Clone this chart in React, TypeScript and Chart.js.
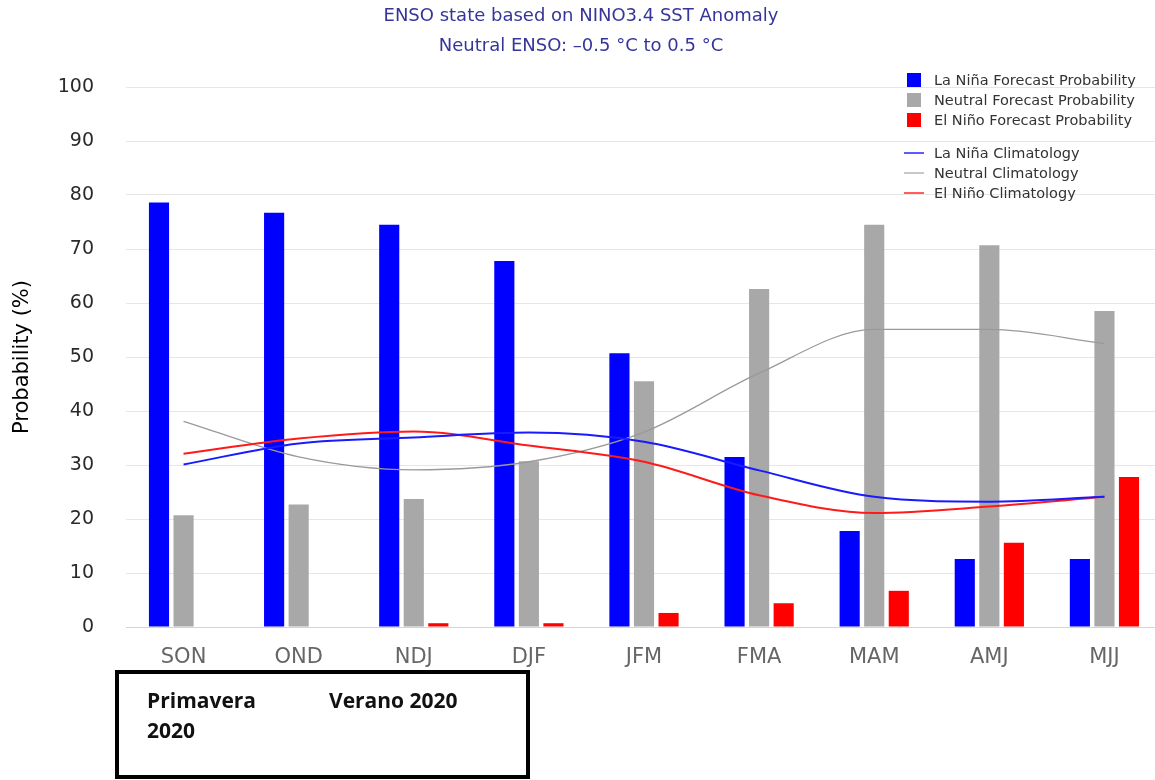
import React, { useEffect, useRef } from "react";
import { Chart, registerables } from "chart.js";

Chart.register(...registerables);

const categories = ["SON", "OND", "NDJ", "DJF", "JFM", "FMA", "MAM", "AMJ", "MJJ"];
const laNinaProb = [78.6, 76.7, 74.5, 67.8, 50.7, 31.5, 17.8, 12.6, 12.6];
const neutralProb = [20.7, 22.7, 23.7, 30.7, 45.5, 62.6, 74.5, 70.7, 58.5];
const elNinoProb = [0, 0, 0.7, 0.7, 2.6, 4.4, 6.7, 15.6, 27.8];
const laNinaClim = [30.1, 34.0, 35.1, 36.0, 34.3, 29.0, 24.1, 23.2, 24.1];
const neutralClim = [38.1, 31.5, 29.1, 30.6, 36.1, 47.0, 55.1, 55.1, 52.5];
const elNinoClim = [32.1, 34.9, 36.2, 33.6, 30.6, 24.4, 21.1, 22.3, 24.1];
const yTicks = [0, 10, 20, 30, 40, 50, 60, 70, 80, 90, 100];

const titleLines = ["ENSO state based on NINO3.4 SST Anomaly", "Neutral ENSO: –0.5 °C to 0.5 °C"];
const barLegend = [
  { label: "La Niña Forecast Probability", color: "#0000ff" },
  { label: "Neutral Forecast Probability", color: "#a8a8a8" },
  { label: "El Niño Forecast Probability", color: "#ff0000" },
];
const lineLegend = [
  { label: "La Niña Climatology", color: "#5c5cff" },
  { label: "Neutral Climatology", color: "#c8c8c8" },
  { label: "El Niño Climatology", color: "#ff5c5c" },
];

const FONT = "'DejaVu Sans', sans-serif";

export default function App() {
  const canvasRef = useRef<HTMLCanvasElement | null>(null);

  useEffect(() => {
    const canvas = canvasRef.current;
    if (!canvas) return;
    const chart = new Chart(canvas, {
      type: "bar",
      data: {
        labels: categories,
        datasets: [
          { type: "bar", label: barLegend[0].label, data: laNinaProb, backgroundColor: "#0000ff", order: 2 },
          { type: "bar", label: barLegend[1].label, data: neutralProb, backgroundColor: "#a8a8a8", order: 2 },
          { type: "bar", label: barLegend[2].label, data: elNinoProb, backgroundColor: "#ff0000", order: 2 },
          {
            type: "line", label: "La Niña Climatology", data: laNinaClim, borderColor: "#1a1aff",
            borderWidth: 2, pointRadius: 0, cubicInterpolationMode: "monotone", order: 0,
          },
          {
            type: "line", label: "Neutral Climatology", data: neutralClim, borderColor: "#9a9a9a",
            borderWidth: 1.3, pointRadius: 0, cubicInterpolationMode: "monotone", order: 1,
          },
          {
            type: "line", label: "El Niño Climatology", data: elNinoClim, borderColor: "#ff1a1a",
            borderWidth: 2, pointRadius: 0, cubicInterpolationMode: "monotone", order: 0,
          },
        ] as any,
      },
      options: {
        animation: false,
        responsive: false,
        maintainAspectRatio: false,
        layout: { padding: { top: 87, left: 0, right: 0, bottom: 0 } },
        datasets: { bar: { categoryPercentage: 0.64, barPercentage: 0.82 } },
        plugins: { legend: { display: false }, tooltip: { enabled: false }, title: { display: false } },
        scales: {
          x: {
            grid: { display: false, drawTicks: false },
            border: { display: true, color: "#ccd6eb", width: 1 },
            ticks: { color: "#666666", font: { family: FONT, size: 21 }, padding: 18 },
            afterFit: (s: any) => { s.height = 153; },
          },
          y: {
            min: 0,
            max: 100,
            afterBuildTicks: (s: any) => { s.ticks = yTicks.map((v) => ({ value: v })); },
            grid: { color: "#e6e6e6", lineWidth: 1, drawTicks: false },
            border: { display: false },
            ticks: { color: "#2a2a2a", font: { family: FONT, size: 19 }, padding: 32 },
            title: {
              display: true, text: "Probability (%)", color: "#000000",
              font: { family: FONT, size: 21 }, padding: { top: 10, bottom: 0 },
            },
            afterFit: (s: any) => { s.width = 126; },
          },
        },
      } as any,
    });
    return () => chart.destroy();
  }, []);

  return (
    <div style={{ position: "fixed", left: 0, top: 0, width: 1155, height: 780, overflow: "hidden", background: "#fff" }}>
      <canvas ref={canvasRef} width={1162} height={780} style={{ position: "absolute", left: 0, top: 0, width: 1162, height: 780 }} />
      <div style={{ position: "absolute", left: 0, top: 0, width: 1162, textAlign: "center", fontFamily: FONT, fontSize: 18, lineHeight: "30px", color: "#35359a" }}>
        {titleLines.map((t) => (<div key={t}>{t}</div>))}
      </div>
      {barLegend.map((it, i) => (
        <div key={it.label} style={{ position: "absolute", left: 904, top: [70, 90, 110][i], height: 20, display: "flex", alignItems: "center" }}>
          <div style={{ width: 14, height: 14, marginLeft: 3, background: it.color }} />
          <div style={{ marginLeft: 13, fontFamily: FONT, fontSize: 14.5, color: "#333", whiteSpace: "nowrap" }}>{it.label}</div>
        </div>
      ))}
      {lineLegend.map((it, i) => (
        <div key={it.label} style={{ position: "absolute", left: 904, top: [143, 163, 183][i], height: 20, display: "flex", alignItems: "center" }}>
          <div style={{ width: 20, height: 2, background: it.color }} />
          <div style={{ marginLeft: 10, fontFamily: FONT, fontSize: 14.5, color: "#333", whiteSpace: "nowrap" }}>{it.label}</div>
        </div>
      ))}
      <div style={{ position: "absolute", left: 115, top: 670, width: 415, height: 109, border: "4px solid #000", boxSizing: "border-box" }} />
      <div style={{ position: "absolute", left: 147, top: 685, fontFamily: "'Open Sans', sans-serif", fontWeight: 700, fontSize: 21, lineHeight: "30px", color: "#111" }}>
        <div>Primavera</div>
        <div>2020</div>
      </div>
      <div style={{ position: "absolute", left: 329, top: 685, fontFamily: "'Open Sans', sans-serif", fontWeight: 700, fontSize: 21, lineHeight: "30px", color: "#111", whiteSpace: "nowrap" }}>
        Verano 2020
      </div>
    </div>
  );
}
